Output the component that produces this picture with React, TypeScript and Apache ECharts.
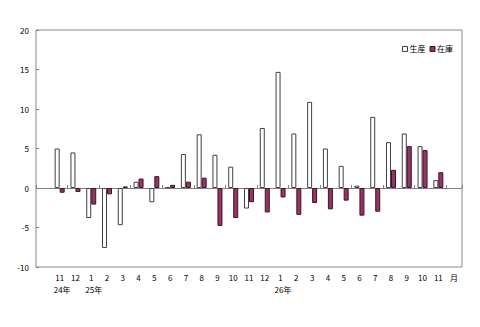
import React, { useEffect, useRef } from "react";
import * as echarts from "echarts";

const monthLabels = ["", "11", "12", "1", "2", "3", "4", "5", "6", "7", "8", "9", "10", "11", "12", "1", "2", "3", "4", "5", "6", "7", "8", "9", "10", "11", "月"];
const yearLabels = ["", "24年", "", "25年", "", "", "", "", "", "", "", "", "", "", "", "26年", "", "", "", "", "", "", "", "", "", "", ""];
const production = [null, 5.0, 4.5, -3.8, -7.6, -4.7, 0.8, -1.8, 0.1, 4.3, 6.8, 4.2, 2.7, -2.6, 7.6, 14.7, 6.9, 10.9, 5.0, 2.8, 0.3, 9.0, 5.8, 6.9, 5.3, 1.0, null];
const inventory = [null, -0.6, -0.5, -2.1, -0.8, 0.2, 1.2, 1.5, 0.4, 0.8, 1.3, -4.8, -3.8, -1.8, -3.1, -1.2, -3.4, -1.9, -2.7, -1.6, -3.5, -3.0, 2.3, 5.3, 4.8, 2.0, null];
const yTicks = { min: -10, max: 20, interval: 5 };

const FONT = "'Noto Sans CJK JP', 'DejaVu Sans', sans-serif";

export default function App() {
  const ref = useRef<HTMLDivElement>(null);
  useEffect(() => {
    if (!ref.current) return;
    const chart = echarts.init(ref.current, null, { renderer: "svg" });
    chart.setOption({
      animation: false,
      backgroundColor: "#ffffff",
      textStyle: { fontFamily: FONT },
      grid: {
        left: 36,
        top: 30,
        right: 18,
        bottom: 60,
        show: true,
        borderColor: "#8a8a8a",
        borderWidth: 1,
        backgroundColor: "transparent",
      },
      legend: {
        right: 22,
        top: 40,
        itemWidth: 5,
        itemHeight: 5,
        itemGap: 4,
        icon: "rect",
        textStyle: { fontSize: 8, color: "#000", fontFamily: FONT, padding: [0, 0, 0, -3] },
        data: [
          { name: "生産", itemStyle: { color: "#ffffff", borderColor: "#404040", borderWidth: 1 } },
          { name: "在庫", itemStyle: { color: "#993366", borderColor: "#3a1428", borderWidth: 1 } },
        ],
      },
      xAxis: [
        {
          type: "category",
          data: monthLabels.map((_, i) => String(i)),
          position: "bottom",
          axisLine: { show: false, onZero: false },
          axisTick: { show: false },
          axisLabel: {
            interval: 0,
            fontSize: 8,
            color: "#000",
            margin: 4,
            lineHeight: 12,
            fontFamily: FONT,
            formatter: (v: string) => {
              const i = Number(v);
              const y = yearLabels[i];
              return y ? monthLabels[i] + "\n{y|" + y + "}" : monthLabels[i];
            },
            rich: {
              y: { fontSize: 8, color: "#000", lineHeight: 12, padding: [0, 0, 0, 5], fontFamily: FONT },
            },
          },
          splitLine: { show: false },
        },
        {
          type: "category",
          data: monthLabels.map((_, i) => String(i)),
          position: "bottom",
          axisLine: { show: true, onZero: true, lineStyle: { color: "#808080", width: 1 } },
          axisTick: { show: true, inside: true, length: 3, lineStyle: { color: "#808080" } },
          axisLabel: { show: false },
          splitLine: { show: false },
        },
      ],
      yAxis: {
        type: "value",
        min: yTicks.min,
        max: yTicks.max,
        interval: yTicks.interval,
        axisLine: { show: false },
        axisTick: { show: true, inside: true, length: 3, lineStyle: { color: "#808080" } },
        axisLabel: { fontSize: 8, color: "#000", margin: 7, fontFamily: FONT },
        splitLine: { show: false },
      },
      series: [
        {
          name: "生産",
          type: "bar",
          xAxisIndex: 0,
          data: production,
          barWidth: 5,
          barGap: "0%",
          itemStyle: { color: "#ffffff", borderColor: "#404040", borderWidth: 1 },
        },
        {
          name: "在庫",
          type: "bar",
          xAxisIndex: 0,
          data: inventory,
          barWidth: 5,
          barGap: "0%",
          itemStyle: { color: "#993366", borderColor: "#3a1428", borderWidth: 1 },
        },
      ],
    });
    return () => chart.dispose();
  }, []);
  return <div ref={ref} style={{ width: 480, height: 327, position: "absolute", left: 0, top: 0 }} />;
}
